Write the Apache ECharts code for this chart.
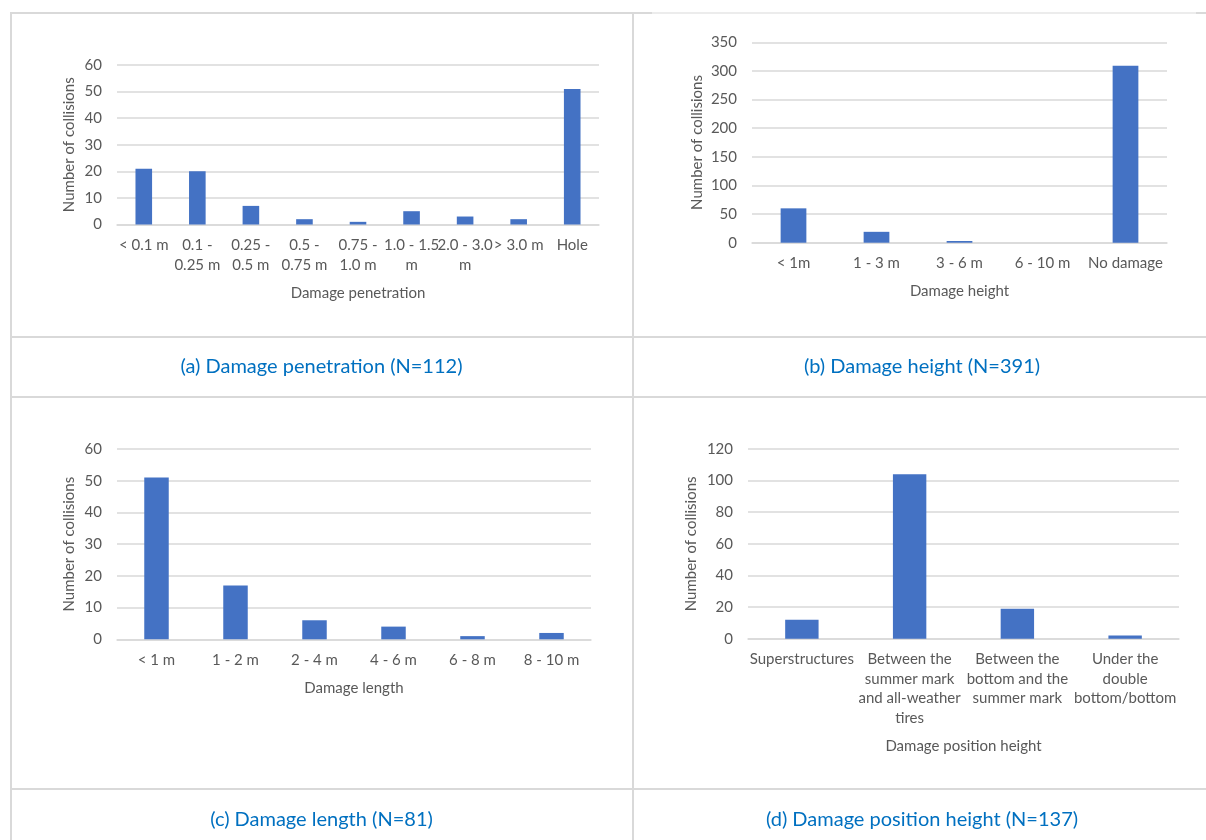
<!DOCTYPE html>
<html>
<head>
<meta charset="utf-8">
<title>Collision damage statistics</title>
<script src="https://cdn.jsdelivr.net/npm/echarts@6/dist/echarts.min.js"></script>
<style>
  html, body { margin: 0; padding: 0; background: #ffffff; }
  #chart { width: 1206px; height: 840px; }
</style>
</head>
<body>
<div id="chart"></div>
<script>
// (a) damage penetration
const penetrationCats = ['< 0.1 m', '0.1 -\n0.25 m', '0.25 -\n0.5 m', '0.5 -\n0.75 m', '0.75 -\n1.0 m', '1.0 - 1.5\nm', '2.0 - 3.0\nm', '> 3.0 m', 'Hole'];
const penetrationVals = [21, 20, 7, 2, 1, 5, 3, 2, 51];

// (b) damage height
const heightCats = ['< 1m', '1 - 3 m', '3 - 6 m', '6 - 10 m', 'No damage'];
const heightVals = [60, 19, 3, 0, 309];

// (c) damage length
const lengthCats = ['< 1 m', '1 - 2 m', '2 - 4 m', '4 - 6 m', '6 - 8 m', '8 - 10 m'];
const lengthVals = [51, 17, 6, 4, 1, 2];

// (d) damage position height
const positionCats = ['Superstructures', 'Between the\nsummer mark\nand all-weather\ntires', 'Between the\nbottom and the\nsummer mark', 'Under the\ndouble\nbottom/bottom'];
const positionVals = [12, 104, 19, 2];

// panel captions
const captions = [
  '(a) Damage penetration (N=112)',
  '(b) Damage height (N=391)',
  '(c) Damage length (N=81)',
  '(d) Damage position height (N=137)'
];

const FONT = 'Lato, "Open Sans", sans-serif';
const TEXT = '#595959';
const GRID_LINE = '#d9d9d9';
const BAR = '#4472C4';
const BORDER = '#d9d9d9';

const panels = [
  { cats: penetrationCats, vals: penetrationVals, max: 60, step: 10, xName: 'Damage penetration', xGap: 61, yGap: 40,
    grid: { left: 117, right: 607, top: 65, bottom: 615.5 } },
  { cats: heightCats, vals: heightVals, max: 350, step: 50, xName: 'Damage height', xGap: 41, yGap: 47,
    grid: { left: 752, right: 39, top: 42.3, bottom: 597.3 } },
  { cats: lengthCats, vals: lengthVals, max: 60, step: 10, xName: 'Damage length', xGap: 41, yGap: 40,
    grid: { left: 117, right: 615, top: 449, bottom: 200.7 } },
  { cats: positionCats, vals: positionVals, max: 120, step: 20, xName: 'Damage position height', xGap: 100, yGap: 49,
    grid: { left: 748, right: 27, top: 449, bottom: 201.3 } }
];

const grids = panels.map(p => Object.assign({ containLabel: false }, p.grid));

const xAxes = panels.map((p, i) => ({
  type: 'category',
  gridIndex: i,
  data: p.cats,
  name: p.xName,
  nameLocation: 'middle',
  nameGap: p.xGap,
  nameTextStyle: { color: TEXT, fontSize: 15, fontFamily: FONT },
  axisLine: { show: true, lineStyle: { color: GRID_LINE, width: 1.5 } },
  axisTick: { show: false },
  axisLabel: { interval: 0, color: TEXT, fontSize: 15, fontFamily: FONT, lineHeight: 19.5, margin: 11 }
}));

const yAxes = panels.map((p, i) => ({
  type: 'value',
  gridIndex: i,
  min: 0,
  max: p.max,
  interval: p.step,
  name: 'Number of collisions',
  nameLocation: 'middle',
  nameGap: p.yGap,
  nameTextStyle: { color: TEXT, fontSize: 15, fontFamily: FONT },
  axisLine: { show: false },
  axisTick: { show: false },
  axisLabel: { color: TEXT, fontSize: 15, fontFamily: FONT, margin: 15 },
  splitLine: { show: true, lineStyle: { color: GRID_LINE, width: 1.5 } }
}));

const series = panels.map((p, i) => ({
  type: 'bar',
  xAxisIndex: i,
  yAxisIndex: i,
  data: p.vals,
  barWidth: '31%',
  itemStyle: { color: BAR },
  silent: true
}));

// table rules drawn around and between the four panels
function hLine(x1, x2, y, w) {
  return { type: 'rect', shape: { x: x1, y: y, width: x2 - x1, height: w }, style: { fill: BORDER }, silent: true };
}
function vLine(x, y1, y2, w) {
  return { type: 'rect', shape: { x: x, y: y1, width: w, height: y2 - y1 }, style: { fill: BORDER }, silent: true };
}
const rules = [
  hLine(10, 652, 12, 2),
  hLine(652, 1196, 12.5, 1),
  hLine(1196, 1206, 12, 2),
  hLine(10, 1206, 336, 2),
  hLine(10, 1206, 396, 2),
  hLine(10, 1206, 788, 2),
  vLine(10, 12, 840, 2),
  vLine(632, 12, 840, 2)
];

const captionPos = [[321.5, 367], [922, 367], [321.5, 820], [922, 820]];
const captionTexts = captions.map((t, i) => ({
  type: 'text',
  x: captionPos[i][0],
  y: captionPos[i][1],
  style: {
    text: t,
    fill: '#0070C0',
    font: '20px ' + FONT,
    align: 'center',
    verticalAlign: 'middle'
  },
  silent: true
}));

const chart = echarts.init(document.getElementById('chart'), null, { renderer: 'canvas' });
chart.setOption({
  animation: false,
  backgroundColor: '#ffffff',
  textStyle: { fontFamily: FONT },
  grid: grids,
  xAxis: xAxes,
  yAxis: yAxes,
  series: series,
  graphic: { elements: rules.concat(captionTexts) }
});
</script>
</body>
</html>
